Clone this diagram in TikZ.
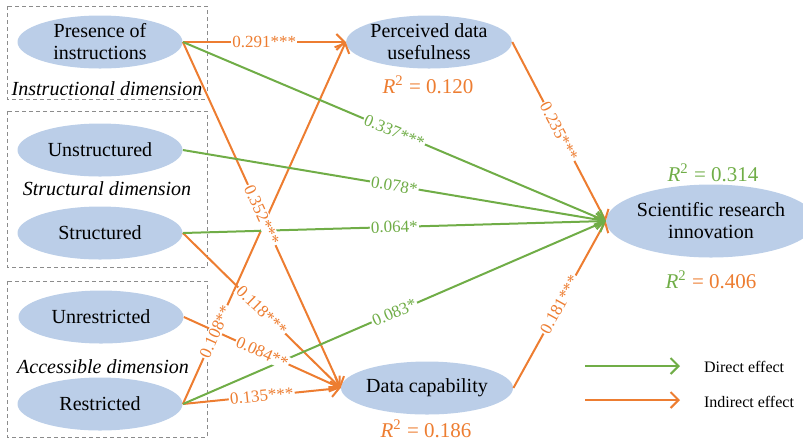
\documentclass[tikz,border=0pt]{standalone}
\usepackage{fontspec}
\setmainfont{Liberation Serif}
\usetikzlibrary{arrows.meta,shapes.geometric}
\definecolor{effOrange}{HTML}{ED7D31}
\definecolor{effGreen}{HTML}{70AD47}
\definecolor{varBlue}{HTML}{BBCEE8}
\definecolor{boxGray}{HTML}{8C8C8C}

\begin{document}
\begin{tikzpicture}[x=.5pt,y=-.5pt,>={Straight Barb[length=4pt,width=8pt]},
  var/.style={ellipse,fill=varBlue,inner sep=0pt,minimum width=82.5pt,minimum height=26.5pt,
    align=center,font=\fontsize{10}{11}\selectfont},
  dim/.style={font=\fontsize{10}{12}\selectfont\itshape},
  direct/.style={draw=effGreen,line width=1pt},
  indirect/.style={draw=effOrange,line width=1pt},
  coef/.style={fill=white,inner sep=.6pt,sloped,font=\fontsize{8.5}{10}\selectfont},
  rsq/.style={font=\fontsize{10.5}{12}\selectfont},
  legend/.style={anchor=west,font=\fontsize{8}{10}\selectfont}]
  \useasboundingbox (0,0) rectangle (803,441);
  \foreach \ya/\yb in {6/99, 111/267, 281/437}
    \draw[boxGray,line width=.4pt,dash pattern=on 2pt off 1.5pt] (7,\ya) rectangle (207,\yb);

  \node (pi) at (100,42) [var] {Presence of\\instructions};
  \node (un) at (100,150) [var] {Unstructured};
  \node (st) at (100,233) [var] {Structured};
  \node (ur) at (101,317) [var] {Unrestricted};
  \node (re) at (100,404) [var] {Restricted};
  \node (pu) at (429,42) [var] {Perceived data\\usefulness};
  \node (dc) at (427,388) [var] {Data capability};
  \node (sri) at (711,221) [var,minimum width=91.5pt,minimum height=36.5pt] {Scientific research\\innovation};

  \node (idim) at (107,89) [dim] {Instructional dimension};
  \node (sdim) at (107,189) [dim] {Structural dimension};
  \node (adim) at (103,367) [dim] {Accessible dimension};

  \node (rpu) at (428,85) [rsq,text=effOrange] {\textit{R}\textsuperscript{2} = 0.120};
  \node (rsd) at (713,173) [rsq,text=effGreen] {\textit{R}\textsuperscript{2} = 0.314};
  \node (rsi) at (711,280) [rsq,text=effOrange] {\textcolor{effGreen}{\textit{R}\textsuperscript{2}} = 0.406};
  \node (rdc) at (426,429) [rsq,text=effOrange] {\textit{R}\textsuperscript{2} = 0.186};

  \foreach \a/\b in {pi/pu, pi/dc, st/dc, ur/dc, re/dc, re/pu, pu/sri, dc/sri}
    \draw[indirect,->] (\a.east) -- (\b.west);
  \foreach \a/\b in {pi/sri, un/sri, st/sri, re/sri}
    \draw[direct,->] (\a.east) -- (\b.west);

  \foreach \a/\b/\p/\t in {pi/pu/.5/0.291***, pi/dc/.5/0.352***, st/dc/.5/0.118***,
      ur/dc/.5/0.084**, re/dc/.5/0.135***, re/pu/.2/0.108**, pu/sri/.5/0.235***, dc/sri/.5/0.181***}
    \path (\a.east) -- (\b.west) node[coef,pos=\p,text=effOrange] {\t};
  \foreach \a/\b/\t in {pi/sri/0.337***, un/sri/0.078*, st/sri/0.064*, re/sri/0.083*}
    \path (\a.east) -- (\b.west) node[coef,pos=.5,text=effGreen] {\t};

  \coordinate (d1) at (585,366);
  \coordinate (d2) at (680,366);
  \coordinate (i1) at (585,400);
  \coordinate (i2) at (680,400);
  \draw[direct,->] (d1) -- (d2);
  \draw[indirect,->] (i1) -- (i2);
  \node (ldir) at (697,367) [legend] {Direct effect};
  \node (lind) at (697,402) [legend] {Indirect effect};
\end{tikzpicture}
\end{document}
